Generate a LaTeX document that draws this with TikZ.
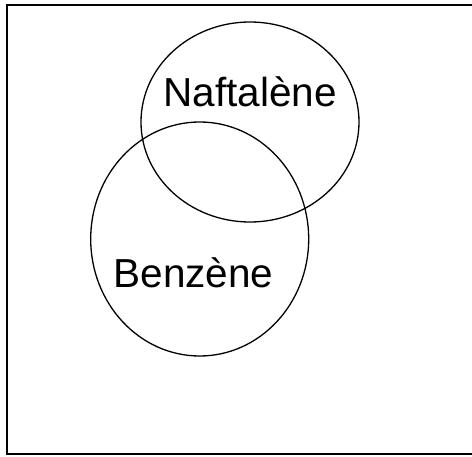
\documentclass[tikz,border=0pt]{standalone}
\usepackage{fontspec}
\setmainfont{Liberation Sans}
\begin{document}
\begin{tikzpicture}[x=1pt,y=1pt,
  setshape/.style={draw=black, line width=1.3pt},
  lbl/.style={anchor=base, inner sep=0pt, font=\fontsize{40.5}{48}\selectfont}]
\useasboundingbox (0,0) rectangle (472,456);
\fill[white] (0,0) rectangle (472,456);
\draw[line width=2pt] (7,450.5) rectangle (480,2);
\draw[setshape] (250,334) ellipse [x radius=109, y radius=100];
\draw[setshape] (199.7,217) ellipse [x radius=109, y radius=117];
\node[lbl] (naf) at (250,349) {Naftalène};
\node[lbl] (ben) at (193.5,168) {Benzène};
\end{tikzpicture}
\end{document}
